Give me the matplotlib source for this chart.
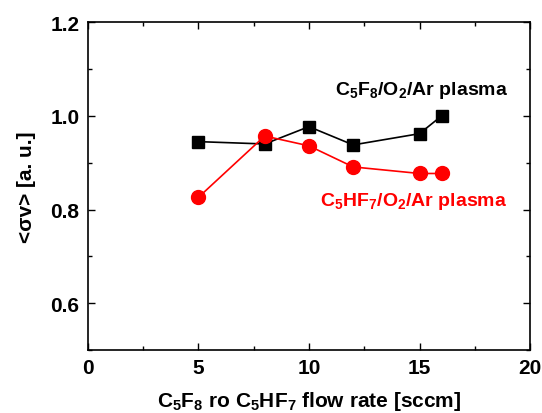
import matplotlib.pyplot as plt
from matplotlib.ticker import MultipleLocator

plt.rcParams['font.family'] = ['Liberation Sans', 'DejaVu Sans']
plt.rcParams['font.weight'] = 'bold'
plt.rcParams['mathtext.default'] = 'regular'

# flow rate [sccm]
flow_c5f8 = [5, 8, 10, 12, 15, 16]
sv_c5f8 = [0.945, 0.940, 0.977, 0.938, 0.962, 1.000]

flow_c5hf7 = [5, 8, 10, 12, 15, 16]
sv_c5hf7 = [0.826, 0.957, 0.936, 0.891, 0.877, 0.877]

fig = plt.figure(figsize=(5.42, 4.14), dpi=100)
ax = fig.add_axes([0.162, 0.152, 0.816, 0.792])

ax.plot(flow_c5f8, sv_c5f8, 's-', color='black', markersize=9, linewidth=1.2)
ax.plot(flow_c5hf7, sv_c5hf7, 'o-', color='red', markersize=10, linewidth=1.2)

ax.set_xlim(0, 20)
ax.set_ylim(0.5, 1.2)
ax.xaxis.set_major_locator(MultipleLocator(5))
ax.xaxis.set_minor_locator(MultipleLocator(2.5))
ax.yaxis.set_major_locator(MultipleLocator(0.2))
ax.yaxis.set_minor_locator(MultipleLocator(0.1))
ax.set_yticks([0.6, 0.8, 1.0, 1.2])
ax.tick_params(which='both', direction='in', top=True, right=True, labelsize=15)
ax.tick_params(which='major', length=5, width=1, pad=6)
ax.tick_params(which='minor', length=3, width=1)
for s in ax.spines.values():
    s.set_linewidth(1.2)

ax.set_xlabel(r'C$_5$F$_8$ ro C$_5$HF$_7$ flow rate [sccm]', fontsize=15, fontweight='bold', labelpad=8)
ax.set_ylabel(r'<σv> [a. u.]', fontsize=15, fontweight='bold', labelpad=10)

ax.text(11.2, 1.046, r'C$_5$F$_8$/O$_2$/Ar plasma', fontsize=14, fontweight='bold', color='black')
ax.text(10.5, 0.81, r'C$_5$HF$_7$/O$_2$/Ar plasma', fontsize=14, fontweight='bold', color='red')

fig.savefig('out.png', dpi=100)
